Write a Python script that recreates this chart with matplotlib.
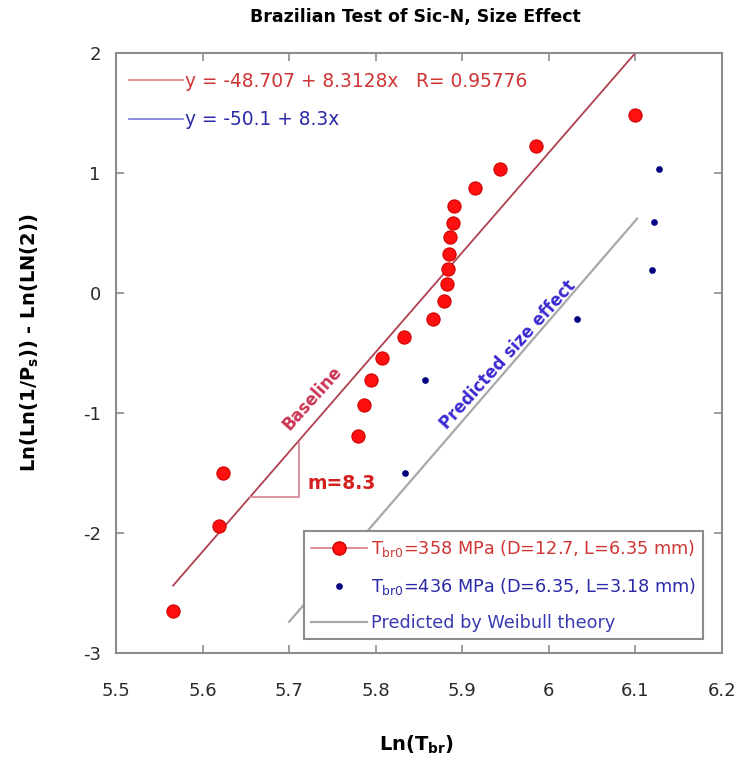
"""
Brazilian test of SiC-N: Weibull plot with size effect.
"""

import numpy as np
import matplotlib
matplotlib.use('Agg')
import matplotlib.pyplot as plt
from matplotlib.lines import Line2D

plt.rcParams['font.family'] = ['DejaVu Sans']
plt.rcParams['mathtext.fontset'] = 'dejavusans'
plt.rcParams['axes.unicode_minus'] = False

# Datos
ln_t_big = [5.566, 5.619, 5.624, 5.780, 5.787, 5.794, 5.807, 5.833, 5.866, 5.879,
            5.882, 5.883, 5.885, 5.886, 5.889, 5.890, 5.915, 5.943, 5.985, 6.100]
lnln_big = [-2.647, -1.939, -1.503, -1.189, -0.936, -0.725, -0.539, -0.370, -0.214, -0.069,
            0.072, 0.200, 0.325, 0.464, 0.586, 0.728, 0.872, 1.033, 1.225, 1.483]

ln_t_small = [5.834, 5.857, 6.033, 6.119, 6.121, 6.127]
lnln_small = [-1.503, -0.723, -0.214, 0.194, 0.589, 1.031]

# Ajuste de la serie base y = a + b x
fit_a, fit_b, fit_r = -48.707, 8.3128, 0.95776
fit_x = [5.566, 6.100]
pred_a, pred_b = -50.1, 8.3
weibull_x = [5.700, 6.102]
weibull_y = [-2.74, 0.62]

# Triángulo de pendiente
tri_x = [5.655, 5.711, 5.711]
tri_y = [-1.70, -1.70, -1.25]

x_ticks = [5.5, 5.6, 5.7, 5.8, 5.9, 6.0, 6.1, 6.2]
x_tick_labels = ['5.5', '5.6', '5.7', '5.8', '5.9', '6', '6.1', '6.2']
y_ticks = [-3, -2, -1, 0, 1, 2]

RED_LINE = '#b0404f'
RED_TXT = '#d03535'
BLUE_TXT = '#2a2aa8'
FRAME = '#8c8c8c'

fig = plt.figure(figsize=(7.4, 7.67), dpi=100)
ax = fig.add_axes([116 / 740, 1 - 653 / 767, 606 / 740, 600 / 767])

fx = np.array(fit_x)
ax.plot(fx, fit_a + fit_b * fx, color=RED_LINE, lw=1.3, zorder=2)
ax.plot(weibull_x, weibull_y, color='#a8a8a8', lw=1.6, zorder=2)
ax.plot(tri_x, tri_y, color='#d98c96', lw=1.3, zorder=2)

ax.plot(ln_t_big, lnln_big, 'o', ms=9.5, color='#ff1010', mec='#d00000', mew=0.8, zorder=4)
ax.plot(ln_t_small, lnln_small, 'o', ms=3.8, color='#000080', mec='#000080', zorder=4)

# Textos sobre las rectas
ax.text(5.727, -0.878, 'Baseline', color='#cc3355', fontsize=12, fontweight='bold',
        rotation=48, ha='center', va='center')
ax.text(5.953, -0.517, 'Predicted size effect', color='#3a2ad0', fontsize=12,
        fontweight='bold', rotation=48, ha='center', va='center')
ax.text(5.7215, -1.586, 'm=8.3', color='#d42020', fontsize=13.5, fontweight='bold',
        ha='left', va='center')

ax.set_xlim(5.5, 6.2)
ax.set_ylim(-3, 2)
ax.set_xticks(x_ticks)
ax.set_xticklabels(x_tick_labels)
ax.set_yticks(y_ticks)
ax.tick_params(direction='in', top=True, right=True, length=6, width=1.2,
               color=FRAME, labelsize=13, labelcolor='#2a2a2a')
ax.tick_params(axis='x', pad=21)
ax.tick_params(axis='y', pad=11)
for sp in ax.spines.values():
    sp.set_color(FRAME)
    sp.set_linewidth(1.5)

# Ecuaciones arriba a la izquierda
eq_handles = [Line2D([], [], color='#e07a80', lw=1.2),
              Line2D([], [], color='#7a7ad8', lw=1.2)]
eq_labels = ['y = -48.707 + 8.3128x   R= %.5f' % fit_r,
             'y = %.1f + %.1fx' % (pred_a, pred_b)]
leg1 = ax.legend(eq_handles, eq_labels, loc='upper left',
                 bbox_to_anchor=(-0.009, 1.0), frameon=False,
                 fontsize=13.4, handlelength=2.9, handletextpad=0.1,
                 labelspacing=1.05, borderaxespad=0.6,
                 labelcolor=[RED_TXT, BLUE_TXT])
ax.add_artist(leg1)

# Leyenda de series
ser_handles = [Line2D([], [], color='#e07a80', lw=1.2, marker='o', ms=9.5,
                      mfc='#ff1010', mec='#d00000'),
               Line2D([], [], ls='none', marker='o', ms=3.8, color='#000080'),
               Line2D([], [], color='#a8a8a8', lw=1.6)]
ser_labels = [r'T$_{\mathrm{br0}}$=358 MPa (D=12.7, L=6.35 mm)',
              r'T$_{\mathrm{br0}}$=436 MPa (D=6.35, L=3.18 mm)',
              'Predicted by Weibull theory']
leg2 = ax.legend(ser_handles, ser_labels, loc='lower right',
                 bbox_to_anchor=(0.9686, 0.0233), borderaxespad=0,
                 fontsize=12.7, handlelength=3.2, handletextpad=0.2,
                 labelspacing=0.95, fancybox=False, framealpha=1,
                 edgecolor=FRAME, labelcolor=[RED_TXT, BLUE_TXT, '#3a3ab0'])
leg2.get_frame().set_linewidth(1.5)

fig.text(0.561, 1 - 17 / 767, 'Brazilian Test of Sic-N, Size Effect',
         ha='center', va='center', fontsize=12.5, fontweight='bold')
fig.text(0.563, 1 - 745 / 767, r'Ln(T$_{\mathbf{br}}$)', ha='center', va='center',
         fontsize=14, fontweight='bold')
fig.text(0.041, 0.553, r'Ln(Ln(1/P$_{\mathbf{s}}$)) - Ln(LN(2))', ha='center',
         va='center', rotation=90, fontsize=14, fontweight='bold')

fig.savefig('out.png', dpi=100)
